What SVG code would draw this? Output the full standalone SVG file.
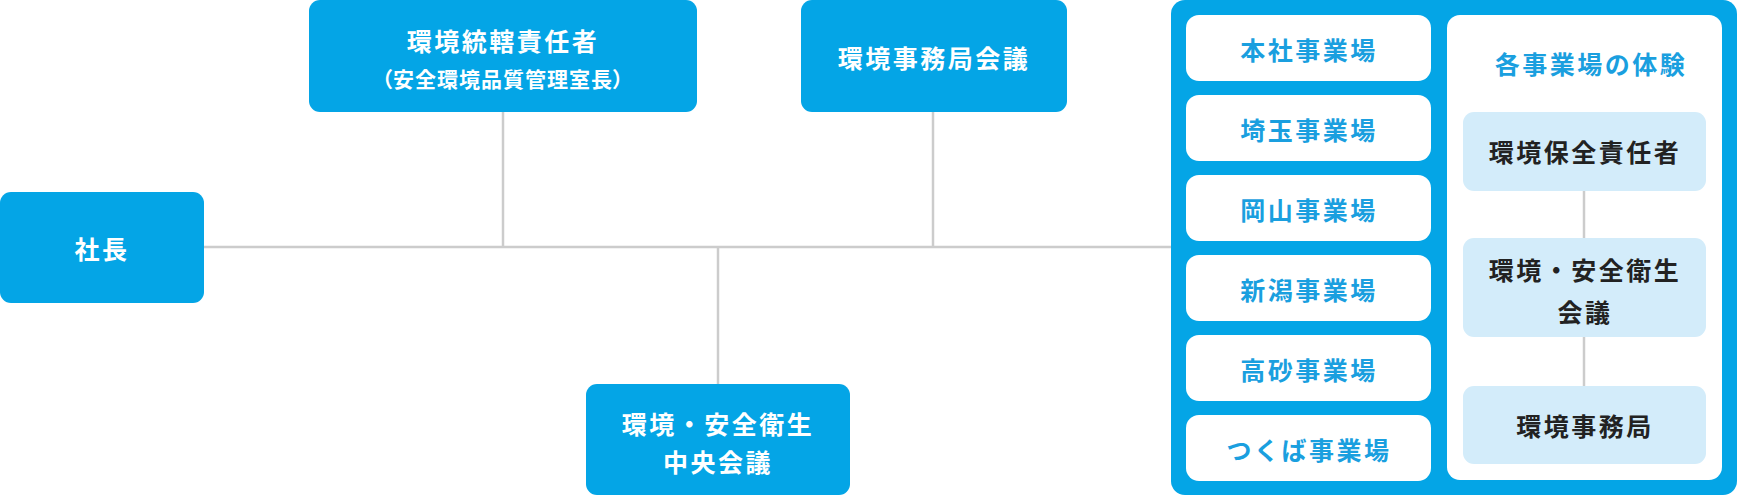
<svg xmlns="http://www.w3.org/2000/svg" width="1739" height="504" viewBox="0 0 1739 504">
<style>
.n{fill:#04a5e6}
.t{font-family:"Noto Sans CJK JP","Noto Sans CJK SC",sans-serif;font-weight:700;font-size:25px;letter-spacing:2.5px;text-anchor:middle;dominant-baseline:central}
.w{fill:#ffffff}
.b{fill:#1a9fdf}
.k{fill:#222222}
.s{font-size:21px;letter-spacing:1px;font-feature-settings:"palt"}
.c{stroke:#cccccc;stroke-width:2.5;fill:none}
.wb{fill:#ffffff}
.lb{fill:#d3ecfa}
</style>
<g id="shacho"><rect class="n" x="0" y="192" width="204" height="111" rx="11"/><text class="t w" x="102" y="248">社長</text></g>
<g id="tokatsu"><rect class="n" x="309" y="0" width="388" height="112" rx="11"/><text class="t w" x="503" y="40">環境統轄責任者</text><text class="t w s" x="503" y="78">（安全環境品質管理室長）</text></g>
<g id="jimukyoku-kaigi"><rect class="n" x="801" y="0" width="266" height="112" rx="11"/><text class="t w" x="934" y="57">環境事務局会議</text></g>
<g id="chuo-kaigi"><rect class="n" x="586" y="384" width="264" height="111" rx="11"/><text class="t w" x="718" y="423">環境・安全衛生</text><text class="t w" x="718" y="461">中央会議</text></g>
<g id="jigyosho">
<rect class="n" x="1171" y="0" width="566" height="495" rx="14"/>
<g id="honsha"><rect class="wb" x="1186" y="15" width="245" height="66" rx="13"/><text class="t b" x="1309" y="49">本社事業場</text></g>
<g id="saitama"><rect class="wb" x="1186" y="95" width="245" height="66" rx="13"/><text class="t b" x="1309" y="129">埼玉事業場</text></g>
<g id="okayama"><rect class="wb" x="1186" y="175" width="245" height="66" rx="13"/><text class="t b" x="1309" y="209">岡山事業場</text></g>
<g id="niigata"><rect class="wb" x="1186" y="255" width="245" height="66" rx="13"/><text class="t b" x="1309" y="289">新潟事業場</text></g>
<g id="takasago"><rect class="wb" x="1186" y="335" width="245" height="66" rx="13"/><text class="t b" x="1309" y="369">高砂事業場</text></g>
<g id="tsukuba"><rect class="wb" x="1186" y="415" width="245" height="66" rx="13"/><text class="t b" x="1309" y="449">つくば事業場</text></g>
<g id="taiken"><rect class="wb" x="1447" y="15" width="275" height="465" rx="13"/><text class="t b" x="1591" y="63">各事業場の体験</text></g>
<g id="hozen"><rect class="lb" x="1463" y="112" width="243" height="79" rx="11"/><text class="t k" x="1585" y="151">環境保全責任者</text></g>
<g id="eisei-kaigi"><rect class="lb" x="1463" y="238" width="243" height="99" rx="11"/><text class="t k" x="1585" y="269">環境・安全衛生</text><text class="t k" x="1585" y="311">会議</text></g>
<g id="jimukyoku"><rect class="lb" x="1463" y="386" width="243" height="78" rx="11"/><text class="t k" x="1585" y="425">環境事務局</text></g>
</g>
<g id="connectors">
<path class="c" d="M204 247H1171"/>
<path class="c" d="M503 112V247"/>
<path class="c" d="M933 112V247"/>
<path class="c" d="M718 247V384"/>
<path class="c" d="M1584 191V238"/>
<path class="c" d="M1584 337V386"/>
</g>
</svg>
